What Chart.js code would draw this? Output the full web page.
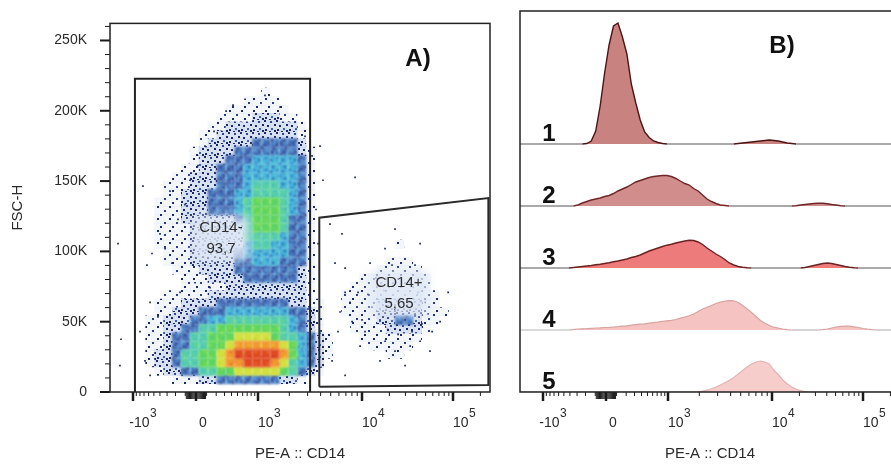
<!DOCTYPE html>
<html>
<head>
<meta charset="utf-8">
<script src="https://cdn.jsdelivr.net/npm/chart.js@4.4.1/dist/chart.umd.min.js"></script>
<style>
  html, body { margin: 0; padding: 0; background: #fff; overflow: hidden; }
  #wrap { position: relative; width: 891px; height: 466px; overflow: hidden; }
  #cA { position: absolute; left: 0; top: 0; }
  #cB { position: absolute; left: 510px; top: 0; }
</style>
</head>
<body>
<div id="wrap">
  <canvas id="cA" width="500" height="466"></canvas>
  <canvas id="cB" width="400" height="466"></canvas>
</div>
<script>
/* CD14 gating: A) FSC-H vs PE-A dot plot, B) offset PE-A histograms */

// ---------- data ----------
const FSC_TICKS = [0, 50000, 100000, 150000, 200000, 250000];
const CD14_MAJOR = [-1000, 0, 1000, 10000, 100000];
const CD14_LABELS = [['-10', '3'], ['0', ''], ['10', '3'], ['10', '4'], ['10', '5']];

// density cells: 6 channels x 6K FSC, rows from FSC 210K (top) down to 0
// each row: [first column, levels 1..9 per cell]
const CELL_CH = 6, CELL_FSC = 6000;
const densityRows = [
  [[17, '1']],
  [[15, '1111']],
  [[13, '1111111']],
  [[12, '111122211']],
  [[11, '11222222221']],
  [[10, '112222222221']],
  [[10, '122222333332']],
  [[9, '12222333333321']],
  [[9, '12223334444431']],
  [[8, '112233344444431']],
  [[7, '1122233344444431']],
  [[6, '11122233345554431']],
  [[6, '11222333445555431']],
  [[5, '111222333456665431']],
  [[5, '111222333456665431']],
  [[5, '111222222356665331']],
  [[5, '111122222256665331']],
  [[5, '111122222255554331']],
  [[5, '111122222245544331'], [32, '1']],
  [[6, '11122222344444331']],
  [[6, '11122222334443331'], [31, '111']],
  [[7, '1112222333333321'], [30, '11111']],
  [[8, '111222233333321'], [28, '11111111']],
  [[8, '111112222222221'], [27, '111111111']],
  [[6, '11111222222222221'], [26, '11111111111']],
  [[5, '1112222333333332211'], [26, '11112222211']],
  [[5, '1122233344444443321'], [26, '111122222111']],
  [[4, '11222334455555554321'], [27, '1112233211']],
  [[4, '11223355666666654321'], [27, '111122221']],
  [[4, '112335566677776554321'], [28, '1111111']],
  [[4, '112335566788888764321'], [29, '11111']],
  [[4, '122355667899999864321'], [31, '11']],
  [[4, '12235566788999875432']],
  [[5, '1223355667777765321']],
  [[7, '111223333333221']],
  []
];

// single events outside the dense areas (channel, FSC in K)
const outlierCh = [22.2,40.4,5.4,7.4,6.7,23.6,24.9,28.3,33.7,37.1,45.8,53.9,59.3,64.0,70.1,78.2,82.9,104.4,114.6,124.7,131.4,141.5,143.5,165.1,138.8,140.2,27.0,32.3,20.2,27.0,148.2,156.3,151.6,158.4,153.6,149.6,158.4,168.5,161.7,175.2,192.0,208.9,227.8,222.4,215.6,198.8,181.9,169.8,185.3,205.5,179.2,184.6,190.0,198.8,202.2,207.5,212.3,214.3,210.2,203.5,194.1,187.3,181.9,176.5,173.8,192.0,198.8,205.5,195.4,188.7,202.2,192.0,185.3,208.9,217.0,171.8,167.1,163.1,155.0,158.4,47.2,57.3,67.4,41.8,50.5,91.0,136.1];
const outlierFsc = [146.4,142.9,105.5,37.5,18.7,22.2,90.2,98.5,112.4,102.0,122.8,150.6,161.0,174.9,185.3,199.8,204.0,210.9,202.6,192.2,181.8,174.9,150.6,152.7,129.8,105.5,63.8,53.4,43.0,11.8,119.4,112.4,91.6,70.8,43.0,22.2,11.8,32.6,63.8,91.6,115.9,105.5,70.8,50.0,29.1,18.7,22.2,51.3,102.0,90.2,81.2,72.2,90.2,86.0,77.7,70.8,63.8,55.5,48.6,43.0,40.9,44.4,51.3,60.4,69.4,55.5,51.3,54.1,65.2,63.8,32.6,29.1,36.1,36.1,43.0,43.0,70.8,50.0,56.9,88.1,70.8,77.7,74.2,91.6,133.2,208.2,167.9];

// gates (channel, FSC)
const gateNegCh = [16.8, 16.8, 134.8, 134.8];
const gateNegFsc = [0, 222700, 222700, 0];
const gatePosCh = [141, 141, 254.9, 254.9, 141];
const gatePosFsc = [3700, 124000, 137900, 4900, 3700];
const gateNames = ['CD14-', 'CD14+'];
const gatePct = ['93,7', '5,65'];
const gateLabelCh = [74.8, 194.7];
const gateLabelFsc = [109300, 70400];

// histograms, 3-channel bins: [first channel, counts...]
const BIN = 3;
const hist1 = [[42, [0, .5, 3, 13, 38, 71, 99, 118, 121, 107, 90, 60, 41, 24, 12, 6.5, 3, 1.5, .5, 0]],
               [144, [0, .5, 1, 1.5, 2, 2.5, 3, 3.5, 4, 3.5, 3, 2, 1, .5, 0]]];
const hist2 = [[36, [0, 1, 3, 4.5, 6, 7, 8, 9.5, 10.5, 12.5, 15, 17, 19, 21.5, 24, 25.5, 27, 28.5, 29.5, 30, 30.5, 30.5, 29.5, 27.5, 25, 22.5, 21, 17.5, 15, 11, 7, 4.5, 2.5, 1, .5, 0]],
               [183, [0, .3, 1, 1.5, 2, 2.5, 2.8, 2.7, 2.3, 1.5, 1, .3, 0]]];
const hist3 = [[33, [0, .5, 1, 1.5, 2, 2.5, 3.3, 3.8, 4.5, 5.2, 6.2, 7, 8, 9, 10.5, 11.5, 13, 15, 17, 18.5, 20, 21.5, 22.8, 23.8, 25, 26, 27, 27.7, 27.5, 26, 23.5, 20, 17, 14, 11.5, 8.5, 5, 3, 1.5, .7, .3, 0]],
               [189, [0, .5, 1.5, 2.5, 3.5, 4.5, 5, 4.5, 3.5, 2.5, 1.5, .8, .3, 0]]];
const hist4 = [[33, [0, .3, 1, 1.2, 1.4, 1.7, 2, 2.2, 2.5, 2.7, 3, 3.3, 3.8, 4.2, 4.8, 5.3, 5.8, 6.2, 6.8, 7.4, 8, 8.6, 9.2, 9.6, 10.5, 11.8, 13, 14.2, 16, 18.5, 21, 22.8, 24.5, 26.5, 27.8, 28.8, 29.4, 29.2, 27.5, 24.5, 21, 17.5, 13.5, 9.5, 6.8, 4.5, 2.8, 1.8, 1, .4, 0]],
               [201, [0, .3, 1, 2, 3, 3.6, 4, 3.8, 3.2, 2.5, 1.5, .8, .3, 0]]];
const hist5 = [[117, [0, .2, .8, 1.8, 3.2, 5, 7, 9.3, 11.6, 14.5, 18, 21.5, 25, 28, 30, 31, 30, 28, 22, 17.5, 12, 8.3, 5, 3, 1.3, .4, 0]]];
const rowNames = ['1', '2', '3', '4', '5'];

// ---------- helpers ----------
const FONT = '"Liberation Sans", Arial, sans-serif';
const NAVY = '#1b2868';
const ROW_GAP = 62;

// biexponential-like display: value -> channel (0..256)
function toChannel(v) {
  const a = Math.abs(v);
  let off;
  if (a <= 1000) off = 86 + Math.sign(v) * (v < 0 ? 63 : 62) * Math.asinh(a / 300) / Math.asinh(1000 / 300);
  else if (v < 0) off = 23 - 40 * Math.log10(a / 1000);
  else if (v <= 10000) off = 148 + 104 * Math.log10(v / 1000);
  else off = 252 + 91 * Math.log10(v / 10000);
  return off * 256 / 380;
}

const CD14_MINOR = [];
[10, 100].forEach(d => { for (let k = 1; k <= 9; k++) { CD14_MINOR.push(k * d, -k * d); } });
[1000, 10000, 100000].forEach(d => { for (let k = 2; k <= 9; k++) if (k * d < 262144) CD14_MINOR.push(k * d); });
CD14_MINOR.sort((a, b) => a - b);

function makePattern(bg, dots) {
  const c = document.createElement('canvas');
  c.width = 12; c.height = 12;
  const g = c.getContext('2d');
  if (bg) { g.fillStyle = bg; g.fillRect(0, 0, 12, 12); }
  dots.forEach(d => { g.fillStyle = d[2]; g.fillRect(d[0], d[1], 2, 2); });
  return g.createPattern(c, 'repeat');
}

const levelFill = {
  1: makePattern('rgba(222,230,244,0.35)', [[1, 2, NAVY], [8, 6, '#2c3f88'], [4, 10, NAVY]]),
  2: makePattern('rgba(196,210,236,0.65)', [[0, 0, NAVY], [6, 1, '#2c4590'], [10, 4, NAVY], [3, 5, NAVY], [7, 8, '#3a5fb0'], [1, 9, NAVY], [10, 10, NAVY], [5, 11, NAVY]]),
  3: makePattern('#4f7cc2', [[0, 0, NAVY], [5, 1, '#2b57b0'], [9, 3, NAVY], [2, 5, '#5cc4e2'], [7, 7, NAVY], [0, 9, '#2b57b0'], [4, 10, NAVY], [10, 9, '#5cc4e2']]),
  4: makePattern('#46b4da', [[1, 1, '#2a6cc0'], [6, 3, '#1f4aa0'], [10, 6, '#62d2c0'], [3, 7, '#2a6cc0'], [8, 10, '#1f4aa0'], [0, 10, '#62d2c0']]),
  5: makePattern('#58cfa8', [[2, 2, '#3ab8d8'], [8, 4, '#3fa8d0'], [4, 8, '#6ddc70'], [10, 10, '#3ab8d8']]),
  6: makePattern('#62d65c', [[1, 3, '#8ee050'], [7, 1, '#45c890'], [5, 8, '#9be24a'], [10, 9, '#45c890']]),
  7: makePattern('#d4e03e', [[2, 2, '#a8dc3c'], [8, 6, '#f0c030'], [4, 9, '#b8e040']]),
  8: makePattern('#f09a2e', [[2, 3, '#e9582a'], [8, 8, '#f5c432'], [6, 1, '#e9582a']]),
  9: makePattern('#e04a22', [[3, 3, '#f07828'], [9, 8, '#c82818']])
};

// ---------- shared plugins ----------
const axisMarks = {
  id: 'axisMarks',
  afterDraw(chart, args, opts) {
    const { ctx, chartArea: a, scales } = chart;
    const x = scales.x;
    ctx.save();
    ctx.strokeStyle = '#1a1a1a';
    const vmark = (px, len, w) => {
      ctx.lineWidth = w; ctx.beginPath(); ctx.moveTo(px, a.bottom); ctx.lineTo(px, a.bottom + len); ctx.stroke();
    };
    CD14_MINOR.forEach(v => vmark(x.getPixelForValue(toChannel(v)), Math.abs(v) < 100 ? 7 : 4, 1));
    CD14_MAJOR.forEach(v => vmark(x.getPixelForValue(toChannel(v)), 9, 2.5));

    ctx.fillStyle = '#2a2a2a';
    ctx.textAlign = 'left';
    ctx.textBaseline = 'alphabetic';
    CD14_LABELS.forEach((lab, i) => {
      const px = x.getPixelForValue(toChannel(CD14_MAJOR[i]));
      ctx.font = '14px ' + FONT;
      let x0;
      if (lab[0] === '0') x0 = px + 3;
      else if (lab[0][0] === '-') x0 = px + 1 - ctx.measureText('-').width;
      else x0 = px;
      ctx.fillText(lab[0], x0, 427);
      if (lab[1]) {
        const w = ctx.measureText(lab[0]).width;
        ctx.font = '12px ' + FONT;
        ctx.fillText(lab[1], x0 + w + 0.5, 417);
      }
    });

    if (opts.yTicks) {
      const y = scales.y;
      const hmark = (py, len, w) => {
        ctx.lineWidth = w; ctx.beginPath(); ctx.moveTo(a.left - len, py); ctx.lineTo(a.left, py); ctx.stroke();
      };
      for (let v = 10000; v <= 260000; v += 10000) if (v % 50000) hmark(y.getPixelForValue(v), 5, 1);
      FSC_TICKS.forEach(v => hmark(y.getPixelForValue(v), 10, 2));
    }
    // frame
    ctx.lineWidth = 1.5;
    ctx.strokeStyle = '#222';
    ctx.strokeRect(a.left, a.top, a.right - a.left, a.bottom - a.top);
    ctx.restore();
  }
};

function xAxis() {
  return {
    type: 'linear', min: 0, max: 256,
    afterFit: s => { s.height = 74; },
    ticks: { display: false },
    grid: { display: false },
    border: { display: false },
    title: { display: true, text: 'PE-A :: CD14', color: '#2a2a2a', font: { family: FONT, size: 15 }, padding: { top: 0, bottom: 3 } }
  };
}

// ---------- panel A ----------
const cells = {};
for (let l = 1; l <= 9; l++) cells[l] = [];
densityRows.forEach((segs, i) => {
  const r = densityRows.length - 1 - i;
  segs.forEach(([c0, s]) => {
    for (let j = 0; j < s.length; j++) {
      const lvl = +s[j];
      if (lvl > 0) cells[lvl].push({ x: (c0 + j) * CELL_CH + CELL_CH / 2, y: r * CELL_FSC + CELL_FSC / 2 });
    }
  });
});

// square cells, a touch larger than the bin so neighbours meet
const cellRadius = ctx => {
  const xs = ctx.chart.scales.x;
  return (xs.getPixelForValue(CELL_CH) - xs.getPixelForValue(0)) * 0.75;
};

const densitySets = [];
for (let l = 1; l <= 9; l++) {
  densitySets.push({
    data: cells[l],
    pointStyle: 'rect',
    pointRadius: cellRadius,
    backgroundColor: levelFill[l],
    borderWidth: 0,
    order: 20 - l
  });
}

// soften the edges of the coloured (level 3+) layers, keep sparse dots crisp
const softCells = {
  id: 'softCells',
  beforeDatasetDraw(chart, args) {
    if (args.index >= 2 && args.index < 9) { chart.ctx.save(); chart.ctx.filter = 'blur(0.8px)'; }
  },
  afterDatasetDraw(chart, args) {
    if (args.index >= 2 && args.index < 9) chart.ctx.restore();
  }
};

const annotA = {
  id: 'annotA',
  afterDatasetsDraw(chart) {
    const { ctx, scales: { x, y } } = chart;
    ctx.save();
    gateNames.forEach((name, i) => {
      const cx = x.getPixelForValue(gateLabelCh[i]);
      const cy = y.getPixelForValue(gateLabelFsc[i]);
      ctx.font = '15px ' + FONT;
      const w = Math.max(ctx.measureText(name).width, ctx.measureText(gatePct[i]).width) + 12;
      ctx.filter = 'blur(4px)';
      ctx.fillStyle = 'rgba(222,232,244,0.85)';
      ctx.fillRect(cx - w / 2, cy - 22, w, 44);
      ctx.filter = 'none';
      ctx.fillStyle = '#2b2b2b';
      ctx.textAlign = 'center';
      ctx.textBaseline = 'middle';
      ctx.fillText(name, cx, cy - 10);
      ctx.fillText(gatePct[i], cx, cy + 11);
    });
    ctx.font = 'bold 24px ' + FONT;
    ctx.fillStyle = '#111';
    ctx.textAlign = 'center';
    ctx.textBaseline = 'middle';
    ctx.fillText('A)', x.getPixelForValue(207.5), y.getPixelForValue(236600));
    ctx.restore();
  }
};

new Chart(document.getElementById('cA'), {
  type: 'scatter',
  data: {
    datasets: [
      ...densitySets,
      {
        data: outlierCh.map((c, i) => ({ x: c, y: outlierFsc[i] * 1000 })),
        pointStyle: 'rect', pointRadius: 1.2, backgroundColor: NAVY, borderWidth: 0, order: 5
      },
      {
        data: gateNegCh.map((c, i) => ({ x: c, y: gateNegFsc[i] })),
        showLine: true, borderColor: '#222', borderWidth: 2, pointRadius: 0, fill: false, order: 1
      },
      {
        data: gatePosCh.map((c, i) => ({ x: c, y: gatePosFsc[i] })),
        showLine: true, borderColor: '#2a2a2a', borderWidth: 2, pointRadius: 0, fill: false, order: 1
      }
    ]
  },
  options: {
    responsive: false,
    animation: false,
    devicePixelRatio: 1,
    events: [],
    layout: { padding: { top: 13, right: 10, left: 0, bottom: 0 } },
    plugins: { legend: { display: false }, tooltip: { enabled: false }, axisMarks: { yTicks: true } },
    scales: {
      x: xAxis(),
      y: {
        type: 'linear', min: 0, max: 262144,
        afterBuildTicks: s => { s.ticks = FSC_TICKS.map(v => ({ value: v })); },
        afterFit: s => { s.width = 110; },
        ticks: {
          autoSkip: false, padding: 15, color: '#2a2a2a',
          font: { family: FONT, size: 14 },
          callback: v => (v === 0 ? '0' : v / 1000 + 'K')
        },
        grid: { display: false },
        border: { display: false },
        title: { display: true, text: 'FSC-H', color: '#2a2a2a', font: { family: FONT, size: 15 }, padding: { top: 9, bottom: 0 } }
      }
    }
  },
  plugins: [softCells, axisMarks, annotA]
});

// ---------- panel B ----------
const rowFill = ['#c8827f', '#d08d8b', '#ee7b7b', '#f5c3c1', '#f7cdcc'];
const rowLine = ['#4d1414', '#6e2626', '#6a2222', '#d7a3a1', '#e3b4b2'];
const rowBaseColor = ['#8c8c8c', '#8c8c8c', '#8c8c8c', '#b8b8b8', '#c8c8c8'];

function expand(segs) {
  const counts = new Array(86).fill(0);
  segs.forEach(([start, vals]) => vals.forEach((v, j) => { counts[start / BIN + j] = v; }));
  return counts;
}

const histSets = [hist1, hist2, hist3, hist4, hist5].map((segs, i) => {
  const base = (4 - i) * ROW_GAP;
  const pts = expand(segs).map((c, k) => ({ x: k * BIN, y: base + c }));
  pts.push({ x: 256, y: base });
  return {
    data: pts,
    fill: { value: base },
    backgroundColor: rowFill[i],
    borderColor: rowLine[i],
    borderWidth: i < 3 ? 1.4 : 1.2,
    pointRadius: 0,
    tension: 0,
    segment: {
      borderColor: c => (c.p0.parsed.y - base < 0.05 && c.p1.parsed.y - base < 0.05) ? rowBaseColor[i] : rowLine[i]
    }
  };
});

const annotB = {
  id: 'annotB',
  afterDatasetsDraw(chart) {
    const { ctx, scales: { x, y } } = chart;
    ctx.save();
    ctx.font = 'bold 24px ' + FONT;
    ctx.fillStyle = '#111';
    ctx.textAlign = 'left';
    ctx.textBaseline = 'alphabetic';
    rowNames.forEach((n, i) => {
      ctx.fillText(n, x.getPixelForValue(15), y.getPixelForValue((4 - i) * ROW_GAP + 3));
    });
    ctx.textAlign = 'center';
    ctx.textBaseline = 'middle';
    ctx.fillText('B)', x.getPixelForValue(176.5), y.getPixelForValue(346));
    ctx.restore();
  }
};

new Chart(document.getElementById('cB'), {
  type: 'line',
  data: { datasets: histSets },
  options: {
    responsive: false,
    animation: false,
    devicePixelRatio: 1,
    events: [],
    layout: { padding: { top: 11, right: 10, left: 10, bottom: 0 } },
    plugins: { legend: { display: false }, tooltip: { enabled: false }, axisMarks: { yTicks: false } },
    scales: {
      x: xAxis(),
      y: { type: 'linear', display: false, min: 0, max: 381 }
    }
  },
  plugins: [axisMarks, annotB]
});
</script>
</body>
</html>
